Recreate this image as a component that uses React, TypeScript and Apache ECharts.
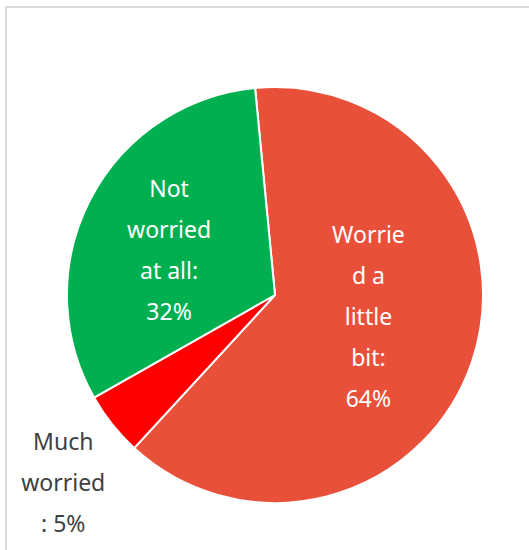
import React, { useEffect, useRef } from "react";
import * as echarts from "echarts";

const categories = ["Worried a little bit", "Much worried", "Not worried at all"];
const values = [64, 5, 32];
const labelTexts = ["Worrie\nd a\nlittle\nbit:", "Much\nworried\n:", "Not\nworried\nat all:"];
const colors = ["#E9503A", "#FF0000", "#00B050"];

export default function App() {
  const ref = useRef<HTMLDivElement>(null);
  useEffect(() => {
    if (!ref.current) return;
    const chart = echarts.init(ref.current, null, { renderer: "svg" });
    const fontFamily = "'Noto Sans', 'Open Sans', sans-serif";
    chart.setOption({
      animation: false,
      backgroundColor: "#ffffff",
      graphic: [
        {
          type: "rect",
          shape: { x: 6, y: 7, width: 560, height: 560 },
          style: { fill: "none", stroke: "#D9D9D9", lineWidth: 2 },
          silent: true,
        },
      ],
      series: [
        {
          type: "pie",
          center: [275, 295],
          radius: [0, 208],
          startAngle: 95.5,
          clockwise: true,
          itemStyle: { borderColor: "#ffffff", borderWidth: 2 },
          label: {
            show: true,
            position: "inside",
            fontFamily,
            fontSize: 23,
            lineHeight: 41,
            color: "#ffffff",
            align: "center",
          },
          labelLine: { show: false },
          emphasis: { disabled: true },
          data: categories.map((name, i) => {
            const text = labelTexts[i] + (i === 1 ? " " : "\n") + values[i] + "%";
            const base: any = {
              name,
              value: values[i],
              itemStyle: { color: colors[i] },
              label: { formatter: () => text },
            };
            if (i === 0) base.label.offset = [-8, -13];
            if (i === 2) base.label.offset = [-11, 4];
            if (i === 1) {
              base.label.offset = [-128, 120];
              base.label.color = "#404040";
            }
            return base;
          }),
        },
      ],
    });
    return () => chart.dispose();
  }, []);
  return (
    <div
      ref={ref}
      style={{ position: "absolute", left: 0, top: 0, width: 529, height: 550 }}
    />
  );
}
